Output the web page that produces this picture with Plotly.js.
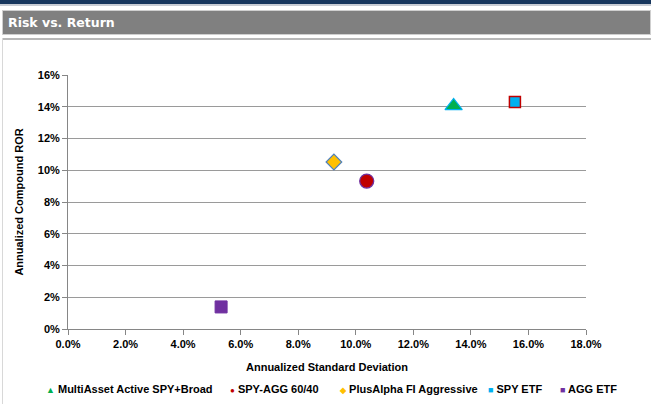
<!DOCTYPE html>
<html>
<head>
<meta charset="utf-8">
<script src="https://cdn.plot.ly/plotly-3.0.1.min.js"></script>
<style>
  html, body { margin:0; padding:0; background:#fff; }
  #wrap { position:relative; width:651px; height:404px; overflow:hidden; }
  #navy { position:absolute; left:0; top:0; width:651px; height:4px; background:#17365D; }
  #navyline { position:absolute; left:0; top:4px; width:651px; height:2px; background:#c8ccd4; }
  #bar { position:absolute; left:2px; top:10px; width:649px; height:25px; background:#808080;
         border:1px solid #cfcfcf; box-sizing:border-box; }
  #bar span { position:absolute; left:5px; top:4px; color:#fff; font-family:"DejaVu Sans"; font-weight:bold; font-size:12.5px; }
  #sep { position:absolute; left:2px; top:38px; width:649px; height:2px; background:#b8b8b8; }
  #lborder { position:absolute; left:2px; top:38px; width:1px; height:366px; background:#d8d8d8; }
  #chart { position:absolute; left:0; top:0; width:651px; height:404px; }
</style>
</head>
<body>
<div id="wrap">
  <div id="chart"></div>
  <div id="navy"></div>
  <div id="navyline"></div>
  <div id="bar"><span>Risk vs. Return</span></div>
  <div id="sep"></div>
  <div id="lborder"></div>
</div>
<script>
// ---- data ----
const seriesNames = ["MultiAsset Active SPY+Broad", "SPY-AGG 60/40", "PlusAlpha FI Aggressive", "SPY ETF", "AGG ETF"];
const stdDev = [0.134, 0.1038, 0.0924, 0.1553, 0.0532];   // annualized standard deviation
const ror    = [0.1405, 0.0932, 0.1052, 0.1430, 0.0139];  // annualized compound ROR
const xTickVals = [0, 0.02, 0.04, 0.06, 0.08, 0.10, 0.12, 0.14, 0.16, 0.18];
const yTickVals = [0, 0.02, 0.04, 0.06, 0.08, 0.10, 0.12, 0.14, 0.16];

// ---- styles ----
const styles = [
  {symbol:'triangle-up', size:15, color:'#00B050', line:'#00B0F0', lw:1.2, glyph:'▲'},
  {symbol:'circle',      size:14, color:'#C00000', line:'#7030A0', lw:1.3, glyph:'●'},
  {symbol:'diamond',     size:12, color:'#FFC000', line:'#4F81BD', lw:1.2, glyph:'◆'},
  {symbol:'square',      size:11, color:'#00B0F0', line:'#C00000', lw:1.5, glyph:'■'},
  {symbol:'square',      size:12, color:'#7030A0', line:'#7030A0', lw:1,   glyph:'■'}
];

const FONT = 'Liberation Sans, Arial, sans-serif';

const traces = seriesNames.map((n, i) => ({
  type:'scatter', mode:'markers', name:n,
  x:[stdDev[i]], y:[ror[i]],
  marker:{symbol:styles[i].symbol, size:styles[i].size, color:styles[i].color,
          line:{color:styles[i].line, width:styles[i].lw}},
  showlegend:false, hoverinfo:'skip'
}));

// custom legend (layout positions in pixels)
const plotL = 68, plotR = 586, plotT = 75, plotB = 329;
const legendPx = [44, 228, 337, 486, 558];
const legendY = 389;
const annotations = seriesNames.map((n, i) => ({
  xref:'paper', yref:'paper',
  x:(legendPx[i] - plotL) / (plotR - plotL),
  y:(plotB - legendY) / (plotB - plotT),
  xanchor:'left', yanchor:'middle', showarrow:false,
  text:'<span style="color:' + styles[i].color + ';font-size:' + (styles[i].glyph === '●' || styles[i].glyph === '◆' ? 8 : 9) + 'px">' + styles[i].glyph + '</span> ' + n,
  font:{family:FONT, size:11, color:'#000', weight:'bold'}
}));

const layout = {
  width:651, height:404,
  margin:{l:plotL, r:651 - plotR, t:plotT, b:404 - plotB, pad:0},
  paper_bgcolor:'#fff', plot_bgcolor:'#fff',
  showlegend:false,
  font:{family:FONT, size:11, color:'#000'},
  xaxis:{
    range:[0, 0.18], tickvals:xTickVals, tickformat:'.1%',
    showgrid:false, zeroline:false,
    showline:true, linecolor:'#868686', linewidth:1,
    ticks:'outside', ticklen:5, tickcolor:'#868686',
    tickfont:{family:FONT, size:11, color:'#000', weight:'bold'},
    title:{text:'Annualized Standard Deviation', standoff:14,
           font:{family:FONT, size:11, color:'#000', weight:'bold'}},
    fixedrange:true
  },
  yaxis:{
    range:[0, 0.16], tickvals:yTickVals, tickformat:'.0%',
    showgrid:true, gridcolor:'#9a9a9a', gridwidth:1, zeroline:false,
    showline:true, linecolor:'#868686', linewidth:1,
    ticks:'outside', ticklen:5, tickcolor:'#868686',
    tickfont:{family:FONT, size:11, color:'#000', weight:'bold'},
    title:{text:'Annualized Compound ROR', standoff:11,
           font:{family:FONT, size:11, color:'#000', weight:'bold'}},
    fixedrange:true
  },
  annotations:annotations
};

Plotly.newPlot('chart', traces, layout, {displayModeBar:false, staticPlot:true});
</script>
</body>
</html>
